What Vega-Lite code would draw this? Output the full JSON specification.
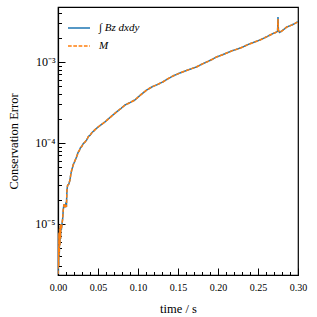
{
  "$schema": "https://vega.github.io/schema/vega-lite/v6.json",
  "width": 240,
  "height": 268,
  "autosize": {"type": "none"},
  "padding": {"left": 58, "top": 7, "right": 19, "bottom": 42},
  "config": {"view": {"stroke": "black", "strokeWidth": 1.2}, "font": "Liberation Serif"},
  "data": {"values": [
    {"t": 0.0000, "B": 2.4e-6, "M": 2.4e-6},
    {"t": 0.0005, "B": 5.0e-6, "M": 5.2e-6},
    {"t": 0.0008, "B": 3.0e-6, "M": 3.0e-6},
    {"t": 0.0012, "B": 7.5e-6, "M": 7.8e-6},
    {"t": 0.0016, "B": 4.0e-6, "M": 4.1e-6},
    {"t": 0.0020, "B": 8.5e-6, "M": 8.8e-6},
    {"t": 0.0024, "B": 5.5e-6, "M": 5.4e-6},
    {"t": 0.0028, "B": 9.5e-6, "M": 9.6e-6},
    {"t": 0.0032, "B": 6.5e-6, "M": 6.6e-6},
    {"t": 0.0036, "B": 1.0e-5, "M": 1.0e-5},
    {"t": 0.0042, "B": 8.5e-6, "M": 8.6e-6},
    {"t": 0.0050, "B": 1.0e-5, "M": 1.0e-5},
    {"t": 0.0058, "B": 1.15e-5, "M": 1.15e-5},
    {"t": 0.0066, "B": 1.5e-5, "M": 1.5e-5},
    {"t": 0.0075, "B": 1.75e-5, "M": 1.75e-5},
    {"t": 0.0085, "B": 1.6e-5, "M": 1.6e-5},
    {"t": 0.0095, "B": 1.75e-5, "M": 1.75e-5},
    {"t": 0.0105, "B": 1.62e-5, "M": 1.62e-5},
    {"t": 0.0112, "B": 2.6e-5, "M": 2.6e-5},
    {"t": 0.0120, "B": 3.0e-5, "M": 3.0e-5},
    {"t": 0.0135, "B": 3.1e-5, "M": 3.1e-5},
    {"t": 0.0150, "B": 3.5e-5, "M": 3.5e-5},
    {"t": 0.0160, "B": 4.1e-5, "M": 4.1e-5},
    {"t": 0.0171, "B": 4.6e-5, "M": 4.6e-5},
    {"t": 0.0182, "B": 5.0e-5, "M": 5.0e-5},
    {"t": 0.0191, "B": 5.4e-5, "M": 5.4e-5},
    {"t": 0.0205, "B": 5.8e-5, "M": 5.8e-5},
    {"t": 0.0220, "B": 6.3e-5, "M": 6.3e-5},
    {"t": 0.0234, "B": 6.8e-5, "M": 6.8e-5},
    {"t": 0.0250, "B": 7.6e-5, "M": 7.6e-5},
    {"t": 0.0265, "B": 8.0e-5, "M": 8.0e-5},
    {"t": 0.0280, "B": 8.7e-5, "M": 8.7e-5},
    {"t": 0.0296, "B": 9.0e-5, "M": 9.0e-5},
    {"t": 0.0315, "B": 9.8e-5, "M": 9.8e-5},
    {"t": 0.0335, "B": 1.02e-4, "M": 1.02e-4},
    {"t": 0.0359, "B": 1.09e-4, "M": 1.09e-4},
    {"t": 0.0380, "B": 1.20e-4, "M": 1.20e-4},
    {"t": 0.0400, "B": 1.24e-4, "M": 1.24e-4},
    {"t": 0.0421, "B": 1.33e-4, "M": 1.33e-4},
    {"t": 0.0445, "B": 1.40e-4, "M": 1.40e-4},
    {"t": 0.0470, "B": 1.48e-4, "M": 1.48e-4},
    {"t": 0.0504, "B": 1.58e-4, "M": 1.58e-4},
    {"t": 0.0540, "B": 1.68e-4, "M": 1.68e-4},
    {"t": 0.0588, "B": 1.82e-4, "M": 1.82e-4},
    {"t": 0.0630, "B": 1.98e-4, "M": 1.98e-4},
    {"t": 0.0688, "B": 2.22e-4, "M": 2.22e-4},
    {"t": 0.0740, "B": 2.45e-4, "M": 2.45e-4},
    {"t": 0.0790, "B": 2.68e-4, "M": 2.68e-4},
    {"t": 0.0838, "B": 2.94e-4, "M": 2.94e-4},
    {"t": 0.0900, "B": 3.15e-4, "M": 3.15e-4},
    {"t": 0.0963, "B": 3.40e-4, "M": 3.40e-4},
    {"t": 0.1030, "B": 3.90e-4, "M": 3.90e-4},
    {"t": 0.1110, "B": 4.51e-4, "M": 4.51e-4},
    {"t": 0.1180, "B": 4.95e-4, "M": 4.95e-4},
    {"t": 0.1250, "B": 5.30e-4, "M": 5.30e-4},
    {"t": 0.1310, "B": 5.66e-4, "M": 5.66e-4},
    {"t": 0.1380, "B": 6.25e-4, "M": 6.25e-4},
    {"t": 0.1450, "B": 6.80e-4, "M": 6.80e-4},
    {"t": 0.1525, "B": 7.31e-4, "M": 7.31e-4},
    {"t": 0.1600, "B": 7.80e-4, "M": 7.80e-4},
    {"t": 0.1660, "B": 8.20e-4, "M": 8.20e-4},
    {"t": 0.1730, "B": 8.67e-4, "M": 8.67e-4},
    {"t": 0.1800, "B": 9.40e-4, "M": 9.40e-4},
    {"t": 0.1870, "B": 1.01e-3, "M": 1.01e-3},
    {"t": 0.1930, "B": 1.08e-3, "M": 1.08e-3},
    {"t": 0.1980, "B": 1.15e-3, "M": 1.15e-3},
    {"t": 0.2050, "B": 1.22e-3, "M": 1.22e-3},
    {"t": 0.2110, "B": 1.29e-3, "M": 1.29e-3},
    {"t": 0.2180, "B": 1.38e-3, "M": 1.38e-3},
    {"t": 0.2250, "B": 1.45e-3, "M": 1.45e-3},
    {"t": 0.2310, "B": 1.53e-3, "M": 1.53e-3},
    {"t": 0.2380, "B": 1.65e-3, "M": 1.65e-3},
    {"t": 0.2450, "B": 1.75e-3, "M": 1.75e-3},
    {"t": 0.2525, "B": 1.87e-3, "M": 1.87e-3},
    {"t": 0.2580, "B": 1.98e-3, "M": 1.98e-3},
    {"t": 0.2640, "B": 2.12e-3, "M": 2.12e-3},
    {"t": 0.2690, "B": 2.25e-3, "M": 2.25e-3},
    {"t": 0.2730, "B": 2.33e-3, "M": 2.33e-3},
    {"t": 0.2745, "B": 2.40e-3, "M": 2.40e-3},
    {"t": 0.2750, "B": 3.60e-3, "M": 3.40e-3},
    {"t": 0.2755, "B": 2.45e-3, "M": 2.45e-3},
    {"t": 0.2770, "B": 2.32e-3, "M": 2.32e-3},
    {"t": 0.2800, "B": 2.42e-3, "M": 2.42e-3},
    {"t": 0.2860, "B": 2.70e-3, "M": 2.70e-3},
    {"t": 0.2920, "B": 2.85e-3, "M": 2.85e-3},
    {"t": 0.2980, "B": 3.05e-3, "M": 3.05e-3},
    {"t": 0.3000, "B": 3.15e-3, "M": 3.15e-3}
  ]},
  "transform": [{"fold": ["B", "M"], "as": ["series", "value"]}],
  "mark": {"type": "line", "clip": true, "strokeWidth": 1.5},
  "encoding": {
    "x": {
      "field": "t", "type": "quantitative",
      "scale": {"domain": [0, 0.3], "nice": false, "zero": false},
      "axis": {
        "title": "time / s",
        "values": [0, 0.01, 0.02, 0.03, 0.04, 0.05, 0.06, 0.07, 0.08, 0.09, 0.1, 0.11, 0.12, 0.13, 0.14, 0.15, 0.16, 0.17, 0.18, 0.19, 0.2, 0.21, 0.22, 0.23, 0.24, 0.25, 0.26, 0.27, 0.28, 0.29, 0.3],
        "labelExpr": "abs(datum.value*20-round(datum.value*20))<1e-6 ? format(datum.value,'.2f') : ''",
        "tickSize": {"condition": {"test": "abs(datum.value*20-round(datum.value*20))<1e-6", "value": -7}, "value": -3.5},
        "tickColor": "black", "tickWidth": 1,
        "domainColor": "black", "domainWidth": 1.2,
        "labelFontSize": 10, "labelColor": "black", "labelPadding": 14,
        "labelOverlap": false, "labelFlush": false, "grid": false,
        "titleFontSize": 12.5, "titleFontWeight": "normal", "titleColor": "black", "titlePadding": 7
      }
    },
    "y": {
      "field": "value", "type": "quantitative",
      "scale": {"type": "log", "domain": [2.34e-6, 4.77e-3], "nice": false},
      "axis": {
        "title": "Conservation Error",
        "values": [3e-6, 4e-6, 5e-6, 6e-6, 7e-6, 8e-6, 9e-6, 1e-5, 2e-5, 3e-5, 4e-5, 5e-5, 6e-5, 7e-5, 8e-5, 9e-5, 1e-4, 2e-4, 3e-4, 4e-4, 5e-4, 6e-4, 7e-4, 8e-4, 9e-4, 1e-3, 2e-3, 3e-3, 4e-3],
        "labelExpr": "datum.value == 1e-5 ? '10⁻⁵' : datum.value == 1e-4 ? '10⁻⁴' : datum.value == 1e-3 ? '10⁻³' : ''",
        "tickSize": {"condition": {"test": "datum.value == 1e-5 || datum.value == 1e-4 || datum.value == 1e-3", "value": -7}, "value": -3.5},
        "tickColor": "black", "tickWidth": 1,
        "domainColor": "black", "domainWidth": 1.2,
        "labelFontSize": 12, "labelColor": "black", "labelPadding": 10,
        "labelOverlap": false, "labelFlush": false, "grid": false,
        "titleFontSize": 12.5, "titleFontWeight": "normal", "titleColor": "black", "titlePadding": 14
      }
    },
    "color": {
      "field": "series", "type": "nominal",
      "scale": {"domain": ["B", "M"], "range": ["#1f77b4", "#ff7f0e"]},
      "legend": {"title": null, "orient": "top-left", "offset": 9, "symbolType": "stroke", "symbolSize": 484, "symbolStrokeWidth": 1.5, "labelFont": "Liberation Serif", "labelFontSize": 11, "labelFontStyle": "italic", "labelColor": "black", "labelExpr": "datum.label == 'B' ? '∫ Bz dxdy' : 'M'", "rowPadding": 1, "labelOffset": 8}
    },
    "strokeDash": {
      "field": "series", "type": "nominal",
      "scale": {"domain": ["B", "M"], "range": [[1, 0], [3.7, 1.6]]},
      "legend": {"title": null, "orient": "top-left", "offset": 9, "symbolType": "stroke", "symbolSize": 484, "symbolStrokeWidth": 1.5, "labelFont": "Liberation Serif", "labelFontSize": 11, "labelFontStyle": "italic", "labelColor": "black", "labelExpr": "datum.label == 'B' ? '∫ Bz dxdy' : 'M'", "rowPadding": 1, "labelOffset": 8}
    }
  }
}
